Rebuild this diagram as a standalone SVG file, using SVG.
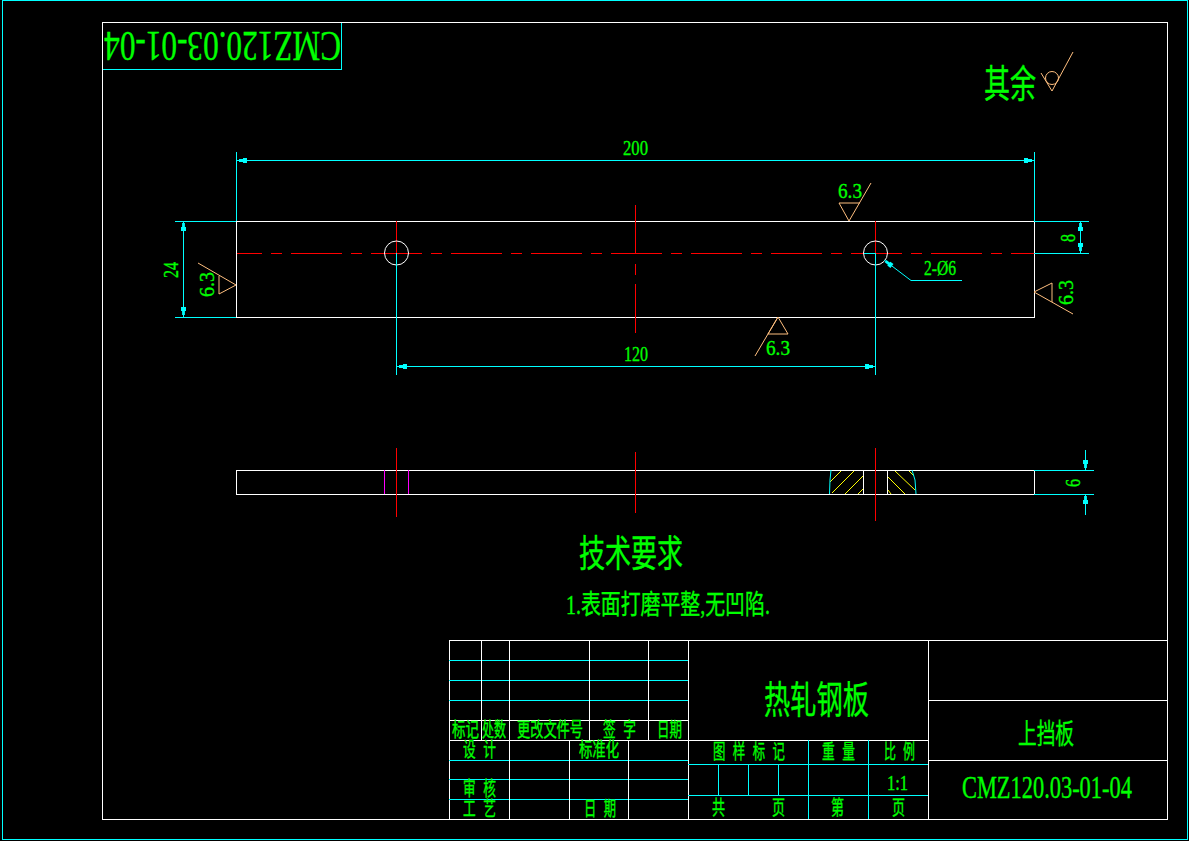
<svg xmlns="http://www.w3.org/2000/svg" width="1189" height="841" viewBox="0 0 1189 841">
<style>
.w{stroke:#fff;fill:none;stroke-width:1;shape-rendering:crispEdges}
.c{stroke:#0ff;fill:none;stroke-width:1;shape-rendering:crispEdges}
.r{stroke:#f00;fill:none;stroke-width:1;shape-rendering:crispEdges}
.m{stroke:#f0f;fill:none;stroke-width:1;shape-rendering:crispEdges}
.y{stroke:#ff0;fill:none;stroke-width:1}
.o{stroke:#ffbf7f;fill:none;stroke-width:1}
.cf{stroke:#0ff;fill:none;stroke-width:1}
.cw{stroke:#fff;fill:none;stroke-width:1}
text{fill:#0f0;stroke:#0f0;stroke-width:.35;font-family:"Liberation Serif","Noto Sans CJK SC",serif}
.ws{word-spacing:7px}
</style>
<defs>
<marker id="a" markerUnits="userSpaceOnUse" markerWidth="12" markerHeight="6" refX="0" refY="3" orient="auto" overflow="visible">
<path d="M2,1.6L6,1.6L6,.5L10,.5L10,5.5L6,5.5L6,4.4L2,4.4Z" fill="#0ff"/>
</marker>
</defs>
<rect width="1189" height="841" fill="#000"/>
<g id="frames">
<rect class="c" x="2.5" y="0.5" width="1185" height="839"/>
<rect class="w" x="102.5" y="22.5" width="1065" height="797"/>
</g>
<g id="flipped-code">
<path class="c" d="M102.5 69.5H341.5V22.5"/>
<text transform="translate(341 32) rotate(180) scale(.744 1)" font-size="42">CMZ120.03-01-04</text>
</g>
<g id="roughness-note">
<text transform="translate(984 97) scale(.684 1)" font-size="38">其余</text>
<path class="o" d="M1041 73L1052 91L1073 52"/>
<circle class="o" cx="1052" cy="78" r="6.5"/>
</g>
<g id="front-view">
<rect class="w" x="236.5" y="221.5" width="798" height="96"/>
<path class="r" d="M237 253.5H1034" stroke-dasharray="51 9 11 9" stroke-dashoffset="26"/>
<path class="r" d="M396.5 221V253M875.5 221V253"/>
<path class="r" d="M635.5 205V254M635.5 264V275M635.5 284V333"/>
<circle class="cw" cx="396.5" cy="253" r="12"/>
<circle class="cw" cx="875.5" cy="253" r="12"/>
<path class="c" d="M864 253.5H875"/>
</g>
<g id="section-view">
<rect class="w" x="236.5" y="470.5" width="798" height="24"/>
<path class="w" d="M863.5 470V494M887.5 470V494"/>
<path class="m" d="M384.5 470V494M408.5 470V494"/>
<path class="r" d="M396.5 448V517M635.5 452V513M875.5 448V521"/>
<path class="y" d="M841 471L830 482M854 471L832 493M863 476L845 494M863 489L858 494M895 471L915 490M888 477L905 494M909 471L914 476M888 490L891 494"/>
<path class="cf" d="M831 470L830 480L829.5 494M912 470L915 480L916 494"/>
</g>
<g id="connectors">
<path class="c" d="M236.5 152V221M1034.5 152V221M396.5 253V375M875.5 253V375M175 221.5H236M175 317.5H236M1034 221.5H1089M1034 253.5H1089M1034 470.5H1094M1034 494.5H1094"/>
<path class="c" d="M237 160.5H1034" marker-start="url(#a)"/>
<path class="c" d="M1034 160.5H237" marker-start="url(#a)"/>
<path class="c" d="M397 366.5H875" marker-start="url(#a)"/>
<path class="c" d="M875 366.5H397" marker-start="url(#a)"/>
<path class="c" d="M183.5 221V317" marker-start="url(#a)"/>
<path class="c" d="M183.5 317V221" marker-start="url(#a)"/>
<path class="c" d="M1080.5 221V253" marker-start="url(#a)"/>
<path class="c" d="M1080.5 253V221" marker-start="url(#a)"/>
<path class="c" d="M1085.5 470V450" marker-start="url(#a)"/>
<path class="c" d="M1085.5 494V515" marker-start="url(#a)"/>
<path class="cf" d="M884 260L911 280.5H962" marker-start="url(#a)"/>
</g>
<g id="roughness-symbols">
<path class="o" d="M871 183L849 221L839 203H860"/>
<path class="o" d="M755 356L778 317L788 334H768L778 317"/>
<path class="o" d="M198 263L236 285L219 294V276"/>
<path class="o" d="M1073 314L1034 292L1052 283V302"/>
</g>
<g id="dimension-labels">
<text transform="translate(623 155) scale(.758 1)" font-size="22">200</text>
<text transform="translate(624 361) scale(.727 1)" font-size="22">120</text>
<text transform="translate(838 198) scale(.873 1)" font-size="22">6.3</text>
<text transform="translate(766 355) scale(.873 1)" font-size="22">6.3</text>
<text transform="translate(924 275) scale(.708 1)" font-size="22">2-Ø6</text>
<text transform="translate(178 278) rotate(-90) scale(.727 1)" font-size="22">24</text>
<text transform="translate(214 297) rotate(-90) scale(.909 1)" font-size="22">6.3</text>
<text transform="translate(1073 305) rotate(-90) scale(.909 1)" font-size="22">6.3</text>
<text transform="translate(1075 242) rotate(-90) scale(.727 1)" font-size="22">8</text>
<text transform="translate(1080 487) rotate(-90) scale(.727 1)" font-size="22">6</text>
</g>
<g id="technical-requirements">
<text transform="translate(579 567) scale(.703 1)" font-size="37">技术要求</text>
<text transform="translate(566 614) scale(.737 1)" font-size="27">1.表面打磨平整,无凹陷.</text>
</g>
<g id="title-block">
<rect class="w" x="449.5" y="640.5" width="718" height="179"/>
<path class="c" d="M449 660.5H688M449 680.5H688M449 700.5H688M449 760.5H688M449 779.5H688M449 799.5H688"/>
<path class="w" d="M449 720.5H688M449 740.5H928M481.5 640V740M509.5 640V819M589.5 640V740M648.5 640V740M569.5 740V819M628.5 740V819M688.5 640V819M928.5 640V819M928 700.5H1167M928 760.5H1167"/>
<path class="c" d="M688 764.5H928M688 795.5H928M718.5 764V795M748.5 764V795M778.5 764V795M808.5 740V819M868.5 740V819"/>
<text transform="translate(452 737) scale(.675 1)" font-size="20">标记</text>
<text transform="translate(482 737) scale(.6 1)" font-size="20">处数</text>
<text transform="translate(517 737) scale(.66 1)" font-size="20">更改文件号</text>
<text class="ws" transform="translate(603 737) scale(.635 1)" font-size="20">签 字</text>
<text transform="translate(657 737) scale(.625 1)" font-size="20">日期</text>
<text class="ws" transform="translate(463 757) scale(.635 1)" font-size="20">设 计</text>
<text transform="translate(579 757) scale(.667 1)" font-size="20">标准化</text>
<text class="ws" transform="translate(463 796) scale(.635 1)" font-size="20">审 核</text>
<text class="ws" transform="translate(463 816) scale(.635 1)" font-size="20">工 艺</text>
<text class="ws" transform="translate(584 816) scale(.615 1)" font-size="20">日 期</text>
<text class="ws" transform="translate(713 759) scale(.62 1)" font-size="20">图 样 标 记</text>
<text class="ws" transform="translate(822 759) scale(.635 1)" font-size="20">重 量</text>
<text class="ws" transform="translate(884 759) scale(.596 1)" font-size="20">比 例</text>
<text transform="translate(887 790) scale(.75 1)" font-size="22">1:1</text>
<text transform="translate(712 815) scale(.65 1)" font-size="20">共</text>
<text transform="translate(772 815) scale(.65 1)" font-size="20">页</text>
<text transform="translate(831 815) scale(.65 1)" font-size="20">第</text>
<text transform="translate(892 815) scale(.65 1)" font-size="20">页</text>
<text transform="translate(764 713) scale(.691 1)" font-size="38">热轧钢板</text>
<text transform="translate(1018 744) scale(.667 1)" font-size="28">上挡板</text>
<text transform="translate(962 798) scale(.723 1)" font-size="31">CMZ120.03-01-04</text>
</g>
</svg>
